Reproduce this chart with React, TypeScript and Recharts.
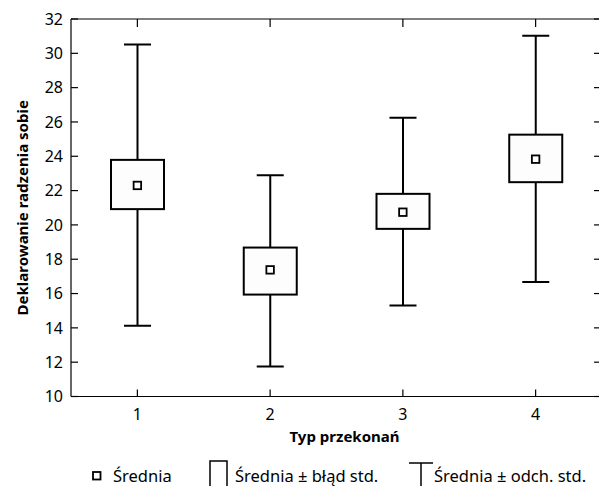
import React from 'react';
import { ComposedChart, Bar, Scatter, XAxis, YAxis, ReferenceLine } from 'recharts';

const categories = ['1', '2', '3', '4'];
const means = [22.3, 17.38, 20.74, 23.83];
const seLow = [20.92, 15.94, 19.77, 22.49];
const seHigh = [23.79, 18.68, 21.81, 25.26];
const sdLow = [14.12, 11.75, 15.3, 16.68];
const sdHigh = [30.51, 22.9, 26.24, 31.03];
const yTicks = [10, 12, 14, 16, 18, 20, 22, 24, 26, 28, 30, 32];

const xTitle = 'Typ przekonań';
const yTitle = 'Deklarowanie radzenia sobie';
const legendLabels = ['Średnia', 'Średnia ± błąd std.', 'Średnia ± odch. std.'];

const data = categories.map((c, i) => ({
  cat: c,
  mean: means[i],
  se: [seLow[i], seHigh[i]],
  sd: [sdLow[i], sdHigh[i]],
}));

const FONT = '"Noto Sans", sans-serif';

const Whisker = (props: any) => {
  const { x, y, width, height } = props;
  const cx = x + width / 2;
  return (
    <g stroke="#000" strokeWidth={2} fill="none">
      <line x1={cx} y1={y} x2={cx} y2={y + height} />
      <line x1={x} y1={y} x2={x + width} y2={y} />
      <line x1={x} y1={y + height} x2={x + width} y2={y + height} />
    </g>
  );
};

const SEBox = (props: any) => {
  const { x, y, width, height } = props;
  return <rect x={x} y={y} width={width} height={height} fill="#fdfdfd" stroke="#000" strokeWidth={2} />;
};

const MeanMarker = (props: any) => {
  const { cx, cy } = props;
  return <rect x={cx - 3.75} y={cy - 3.75} width={7.5} height={7.5} fill="#fff" stroke="#000" strokeWidth={1.8} />;
};

// short inward tick marks at both ends of a horizontal reference line
const HTick = (p: any) => {
  const xl = Math.min(p.x1, p.x2);
  const xr = Math.max(p.x1, p.x2);
  const y = p.y1;
  return (
    <g stroke="#000" strokeWidth={1.2}>
      <line x1={xl} y1={y} x2={xl + 7} y2={y} />
      <line x1={xr - 8} y1={y} x2={xr} y2={y} />
    </g>
  );
};

// short inward tick marks at both ends of a vertical reference line
const VTick = (p: any) => {
  const yt = Math.min(p.y1, p.y2);
  const yb = Math.max(p.y1, p.y2);
  const x = p.x1;
  return (
    <g stroke="#000" strokeWidth={1.2}>
      <line x1={x} y1={yt} x2={x} y2={yt + 8} />
      <line x1={x} y1={yb - 7} x2={x} y2={yb} />
    </g>
  );
};

const YTitle = (props: any) => {
  const vb = props.viewBox || { y: 0, height: 0 };
  const cy = vb.y + vb.height / 2;
  return (
    <text
      x={22}
      y={cy}
      transform={`rotate(-90 22 ${cy})`}
      textAnchor="middle"
      dominantBaseline="central"
      fontFamily={FONT}
      fontWeight="bold"
      fontSize={15}
      fill="#000"
    >
      {yTitle}
    </text>
  );
};

const XTitle = (props: any) => {
  const vb = props.viewBox || { x: 0, width: 0, y: 0 };
  return (
    <text
      x={vb.x + vb.width / 2 + 8}
      y={vb.y + 45}
      textAnchor="middle"
      fontFamily={FONT}
      fontWeight="bold"
      fontSize={15}
      fill="#000"
    >
      {xTitle}
    </text>
  );
};

const tickStyle = { fill: '#000', fontSize: 16, fontFamily: FONT };

const legendText = { position: 'absolute' as const, top: 468, lineHeight: '16px', whiteSpace: 'nowrap' as const };

export default function App() {
  return (
    <div style={{ position: 'absolute', left: 0, top: 0, width: 599, height: 486, overflow: 'hidden', background: '#fff' }}>
      <ComposedChart width={612} height={486} data={data} margin={{ top: 19, right: 10, bottom: 0, left: 0 }}>
        <XAxis
          xAxisId="b"
          dataKey="cat"
          orientation="bottom"
          height={89.5}
          interval={0}
          axisLine={{ stroke: '#000', strokeWidth: 1.2 }}
          tickLine={false}
          tickSize={0}
          tickMargin={12}
          tick={tickStyle}
          label={<XTitle />}
        />
        <XAxis xAxisId="t" dataKey="cat" hide />
        <YAxis
          yAxisId="l"
          type="number"
          domain={[10, 32]}
          ticks={yTicks}
          interval={0}
          allowDataOverflow
          width={71}
          axisLine={{ stroke: '#000', strokeWidth: 1.2 }}
          tickLine={false}
          tickSize={0}
          tickMargin={8}
          tick={tickStyle}
          label={<YTitle />}
        />
        <ReferenceLine yAxisId="l" xAxisId="b" y={32} stroke="#000" strokeWidth={1.2} ifOverflow="visible" />
        {yTicks.map((t) => (
          <ReferenceLine key={`yt${t}`} yAxisId="l" xAxisId="b" y={t} shape={<HTick />} ifOverflow="visible" />
        ))}
        {categories.map((c) => (
          <ReferenceLine key={`xt${c}`} yAxisId="l" xAxisId="b" x={c} shape={<VTick />} ifOverflow="visible" />
        ))}
        <Bar xAxisId="t" yAxisId="l" dataKey="sd" barSize={27} shape={<Whisker />} isAnimationActive={false} />
        <Bar xAxisId="b" yAxisId="l" dataKey="se" barSize={53} shape={<SEBox />} isAnimationActive={false} />
        <Scatter xAxisId="b" yAxisId="l" dataKey="mean" shape={<MeanMarker />} isAnimationActive={false} />
      </ComposedChart>
      <div style={{ position: 'absolute', left: 0, top: 0, width: 599, height: 486, pointerEvents: 'none', fontFamily: FONT, fontSize: 16.5, color: '#000' }}>
        <svg style={{ position: 'absolute', left: 92, top: 471 }} width={10} height={10}>
          <rect x={1} y={1} width={7.5} height={7.5} fill="#fff" stroke="#000" strokeWidth={1.8} />
        </svg>
        <span style={{ ...legendText, left: 113 }}>{legendLabels[0]}</span>
        <svg style={{ position: 'absolute', left: 208, top: 459 }} width={22} height={27}>
          <rect x={2} y={2} width={17} height={30} fill="#fff" stroke="#000" strokeWidth={1.5} />
        </svg>
        <span style={{ ...legendText, left: 235 }}>{legendLabels[1]}</span>
        <svg style={{ position: 'absolute', left: 407, top: 459 }} width={28} height={27}>
          <line x1={2} y1={4} x2={26} y2={4} stroke="#000" strokeWidth={1.5} />
          <line x1={14} y1={4} x2={14} y2={30} stroke="#000" strokeWidth={1.5} />
        </svg>
        <span style={{ ...legendText, left: 434 }}>{legendLabels[2]}</span>
      </div>
    </div>
  );
}
